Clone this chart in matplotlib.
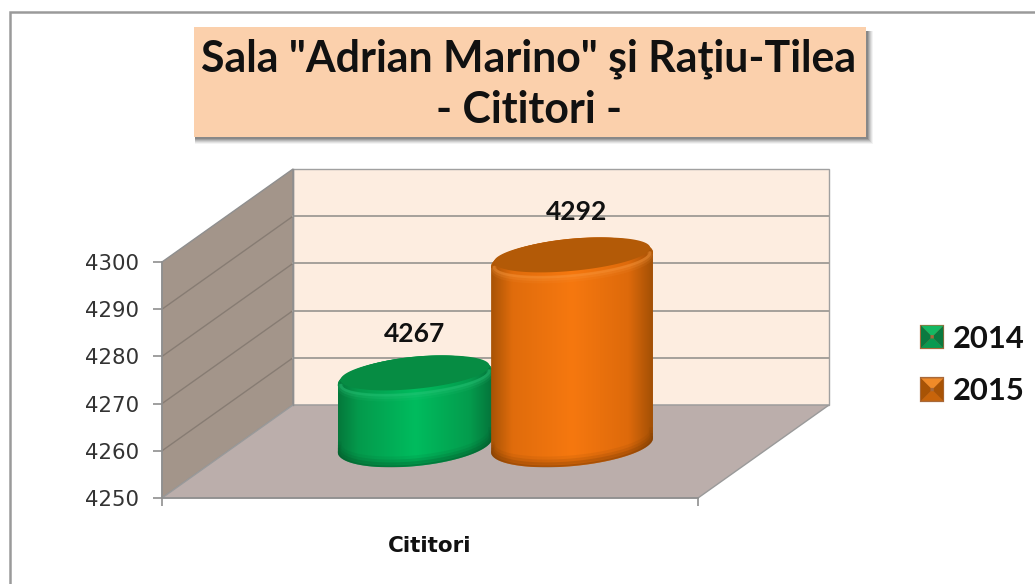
import numpy as np
import matplotlib
matplotlib.use("Agg")
import matplotlib.pyplot as plt
from matplotlib.colors import LinearSegmentedColormap
from matplotlib.patches import Polygon, Rectangle
from matplotlib.legend_handler import HandlerBase

# ---- data ----
title = 'Sala "Adrian Marino" şi Raţiu-Tilea\n- Cititori -'
category = "Cititori"
series_names = ["2014", "2015"]
series_values = [4267, 4292]
y_ticks = [4250, 4260, 4270, 4280, 4290, 4300]

W, H = 1035, 584
fig = plt.figure(figsize=(W / 100, H / 100), dpi=100, facecolor="white")

def fx(px): return px / W
def fy(py): return 1 - py / H

# frame
fig.add_artist(Rectangle((fx(10), fy(600)), fx(1040), fy(12) - fy(600), transform=fig.transFigure,
                         fc="white", ec="#9A9A9A", lw=1.8, zorder=0))

# title box with a soft shadow
BX0, BX1, BY0, BY1 = 194, 866, 27, 137
for grow, alpha in [(6, .07), (5, .10), (4, .14), (3, .18), (2, .25), (1, .3)]:
    fig.add_artist(Rectangle((fx(BX0 + 1), fy(BY1 + 1 + grow)), fx(BX1 - BX0 + grow), fy(BY0 + 4) - fy(BY1 + 1 + grow),
                             transform=fig.transFigure, fc="#555555", alpha=alpha, ec="none", zorder=1))
fig.add_artist(Rectangle((fx(BX0), fy(BY1)), fx(BX1 - BX0), fy(BY0) - fy(BY1), transform=fig.transFigure,
                         fc="#FBD0AC", ec="none", zorder=2))
t1, t2 = title.split("\n")
fig.text(fx(529), fy(59), t1, family="Lato", weight="bold", fontsize=30.9, color="#111111",
         ha="center", va="center", zorder=3)
fig.text(fx(529), fy(110), t2, family="Lato", weight="bold", fontsize=30.9, color="#111111",
         ha="center", va="center", zorder=3)

# chart axes = front plane of the 3D box
AX0, AX1, AY0, AY1 = 162, 698, 262, 498
ax = fig.add_axes([fx(AX0), fy(AY1), fx(AX1 - AX0), fy(AY0) - fy(AY1)])
ax.patch.set_visible(False)
ymin, ymax = y_ticks[0], y_ticks[-1]
ax.set_xlim(0, 1)
ax.set_ylim(ymin, ymax)
unit = (AY1 - AY0) / (ymax - ymin)   # px per value unit
dx = 131 / (AX1 - AX0)
dy = 93 / unit

GRID = "#A5A09B"
kw = dict(clip_on=False)
ax.add_patch(Polygon([(dx, ymin + dy), (1 + dx, ymin + dy), (1 + dx, ymax + dy), (dx, ymax + dy)],
                     fc="#FDEDE0", ec="#A0A0A0", lw=1, zorder=1, **kw))
ax.add_patch(Polygon([(0, ymin), (dx, ymin + dy), (dx, ymax + dy), (0, ymax)],
                     fc="#A3958A", ec="#8F8F8F", lw=1, zorder=2, **kw))
ax.add_patch(Polygon([(0, ymin), (1, ymin), (1 + dx, ymin + dy), (dx, ymin + dy)],
                     fc="#BBAEAB", ec="#9A9A9A", lw=1, zorder=2, **kw))
for v in y_ticks[1:-1]:
    ax.plot([0, dx], [v, v + dy], color="#877C73", lw=1.0, zorder=3, **kw)
    ax.plot([dx, 1 + dx], [v + dy, v + dy], color=GRID, lw=1.4, zorder=3, **kw)
ax.plot([dx, dx], [ymin + dy, ymax + dy], color="#8F8F8F", lw=1, zorder=3, **kw)

# cylinders
bar_spans = [(0.328, 0.616), (0.614, 0.916)]
top_offset = 8.5        # depth shift of the cylinder's top in value units
base_level = 4261.2
half_h = 4.45
shear = 1.5
palettes = [
    dict(cols=["#05783B", "#049A4C", "#00BC5E", "#049C4D", "#05733A"], cap="#068C43", lip="#2CC97C", dark="#035A2B"),
    dict(cols=["#A85305", "#E06C0C", "#F6780F", "#DE6A0B", "#A35005"], cap="#B35A07", lip="#FA9A40", dark="#7E3D03"),
]
t = np.linspace(0, 2 * np.pi, 241)
stops = [0, .13, .5, .85, 1]

def outline(xc, a, yc, sx=1.0, sy=1.0):
    xs = xc + a * sx * np.cos(t)
    ys = yc + half_h * sy * np.sin(t) + shear * np.cos(t)
    return xs, ys

def clip_to(artist, patch):
    artist.set_clip_on(True)
    artist.set_clip_box(fig.bbox)
    artist.set_clip_path(patch)

for i, (val, (x0, x1), pal) in enumerate(zip(series_values, bar_spans, palettes)):
    z = 10 + i * 10
    xc, a = (x0 + x1) / 2, (x1 - x0) / 2
    ytop = val + top_offset
    tx, ty = outline(xc, a, ytop)
    bx, by = outline(xc, a, base_level)
    low = np.where(np.sin(t) <= 0)[0]
    low = low[np.argsort(tx[low])]
    upp = np.where(np.sin(t) >= 0)[0]
    upp = upp[np.argsort(tx[upp])]
    # silhouette: upper arc of the top + lower arc of the base
    body_x = np.r_[tx[upp], bx[low][::-1]]
    body_y = np.r_[ty[upp], by[low][::-1]]
    body = Polygon(np.c_[body_x, body_y], closed=True, fc="none", ec="none", transform=ax.transData)
    ax.add_patch(body)
    cmap = LinearSegmentedColormap.from_list("c", list(zip(stops, pal["cols"])))
    im = ax.imshow(np.linspace(0, 1, 256)[None, :], cmap=cmap, aspect="auto",
                   extent=(x0, x1, body_y.min(), body_y.max()), zorder=z)
    clip_to(im, body)
    # soft dark lip round the base
    for shift, lw, al in [(1.4, 6, .10), (0.9, 5, .16), (0.45, 4, .25), (0.1, 2, .4)]:
        line, = ax.plot(bx[low], by[low] + shift, color=pal["dark"], lw=lw, alpha=al, zorder=z + 1)
        clip_to(line, body)
    # soft highlight under the cap
    ix, iy = outline(xc, a, ytop + 1.0, 0.965, 0.76)
    for shift, lw, al in [(-1.6, 5, .10), (-1.3, 3.5, .18), (-1.0, 2, .3)]:
        line, = ax.plot(ix[low], iy[low] + shift, color=pal["lip"], lw=lw, alpha=al, zorder=z + 2)
        clip_to(line, body)
    # cap
    ax.add_patch(Polygon(np.c_[ix, iy], fc=pal["cap"], ec="none", zorder=z + 3, **kw))
    edge, = ax.plot(tx[upp], ty[upp], color=pal["cap"], lw=2, zorder=z + 3)
    clip_to(edge, body)
    ax.text(xc + (0.008 if i else 0), val + (17.7 if i == 0 else 18.6), str(val), family="Lato", weight="bold",
            fontsize=19, color="#111111", ha="center", va="center", zorder=40)

ax.set_xlim(0, 1)
ax.set_ylim(ymin, ymax)

# axes decoration
for s in ("top", "right"):
    ax.spines[s].set_visible(False)
for s in ("left", "bottom"):
    ax.spines[s].set_color("#8F8F8F")
    ax.spines[s].set_linewidth(1.2)
    ax.spines[s].set_zorder(4)
ax.set_yticks(y_ticks)
ax.set_yticklabels([str(v) for v in y_ticks], fontsize=15.3, color="#333333", family="DejaVu Sans")
ax.tick_params(axis="y", length=6.5, width=1.2, color="#8F8F8F", pad=10)
ax.set_xticks([0.5])
ax.set_xticklabels([category], fontsize=15.5, weight="bold", color="#111111", family="DejaVu Sans")
ax.tick_params(axis="x", which="major", length=0, pad=27.5)
ax.set_xticks([0, 1], minor=True)
ax.tick_params(axis="x", which="minor", length=6, width=1.2, color="#8F8F8F")

# legend with bevelled keys
class BevelKey(HandlerBase):
    def __init__(self, top, side, bottom, edge):
        super().__init__()
        self.top, self.side, self.bottom, self.edge = top, side, bottom, edge
    def create_artists(self, legend, orig, xd, yd, w, h, fs, trans):
        x0, y0 = -xd, -yd
        s = h
        cx, cy = x0 + s / 2, y0 + s / 2
        c = [(x0, y0), (x0 + s, y0), (x0 + s, y0 + s), (x0, y0 + s)]
        arts = [Rectangle((x0, y0), s, s, fc=self.edge, ec=self.edge, lw=1.6, transform=trans)]
        inner = [(cx + (p[0] - cx) * .15, cy + (p[1] - cy) * .15) for p in c]
        faces = [(0, self.bottom), (1, self.side), (2, self.top), (3, self.side)]
        for k, col in faces:
            arts.append(Polygon([c[k], c[(k + 1) % 4], inner[(k + 1) % 4], inner[k]], fc=col, ec="none", transform=trans))
        return arts

handles = [Rectangle((0, 0), 1, 1, label=n) for n in series_names]
key_styles = [BevelKey("#14B862", "#0A7A40", "#0A9A50", "#A8693A"),
              BevelKey("#F08A28", "#A85305", "#C8640A", "#A8693A")]
leg = fig.legend(handles=handles, handler_map={h: s for h, s in zip(handles, key_styles)},
                 loc="center left", bbox_to_anchor=(fx(921), fy(365)), frameon=False,
                 prop={"family": "Lato", "weight": "bold", "size": 22.3}, labelcolor="#111111",
                 handlelength=0.73, handleheight=0.73, handletextpad=0.3, labelspacing=0.8,
                 borderpad=0, borderaxespad=0)

fig.savefig("out.png", dpi=100, facecolor="white")
